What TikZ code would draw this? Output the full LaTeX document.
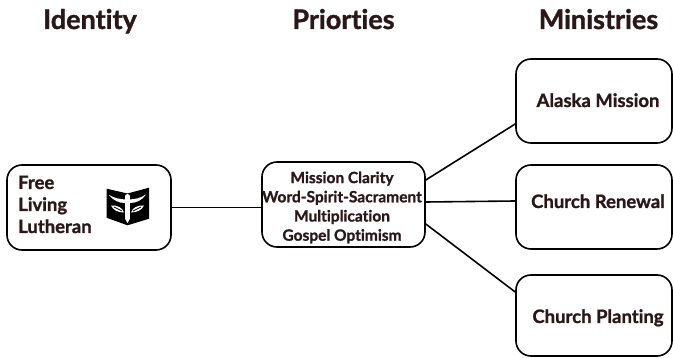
\documentclass[tikz,border=0pt]{standalone}
\usepackage{fontspec}
\setmainfont{Lato}[Ligatures=NoCommon,BoldFeatures={FakeBold=1.2}]
\definecolor{ink}{HTML}{2A1717}
\begin{document}
\begin{tikzpicture}[x=1pt,y=-1pt,
  box/.style={draw=black,line width=1.6pt,rounded corners=15pt,inner sep=0pt},
  head/.style={font=\fontsize{27}{32}\selectfont\bfseries,text=ink,inner sep=0pt,anchor=base},
  lbl/.style={font=\fontsize{18.5}{22}\selectfont\bfseries,text=ink,inner sep=0pt},
  pri/.style={font=\fontsize{15.5}{19.2}\selectfont\bfseries,text=ink,inner sep=0pt,align=center},
  link/.style={draw=black,line width=1.6pt}]
\useasboundingbox (0,0) rectangle (673,358);
% headings
\node[head] (hid) at (90,29) {Identity};
\node[head] (hpr) at (343.5,29) {Priorties};
\node[head] (hmi) at (598.5,29) {Ministries};
% boxes
\node[box,minimum width=164pt,minimum height=85pt] (idbox) at (89,207.5) {};
\node[box,minimum width=163pt,minimum height=85pt] (pribox) at (343.5,204.5) {};
\node[box,minimum width=156pt,minimum height=84pt] (alaska) at (594,101) {};
\node[box,minimum width=156pt,minimum height=84pt] (renewal) at (594,207) {};
\node[box,minimum width=156pt,minimum height=81pt] (planting) at (594,315.5) {};
% texts
\node[lbl,anchor=base west,align=left] (idtext) at (18,233) {Free\\Living\\Lutheran};
\node[pri,anchor=base] (pritext) at (342,240.7) {Mission Clarity\\Word-Spirit-Sacrament\\Multiplication\\Gospel Optimism};
\node[lbl,anchor=base] (alaskat) at (598,107) {Alaska Mission};
\node[lbl,anchor=base] (renewalt) at (598,208) {Church Renewal};
\node[lbl,anchor=base] (plantingt) at (598,323) {Church Planting};
% icon
\fill[black] (106.5,188.7) -- (127.5,193.5) -- (149,187.7) -- (149,218.7) -- (127.5,225.3) -- (106.5,217.7) -- cycle;
% upper wings
\fill[white] (109,195) .. controls (115,198.5) and (120,199) .. (125,199.5) -- (125,203) .. controls (119,203) and (113,200.5) .. (109,195) -- cycle;
\fill[white] (146,194.5) .. controls (140,198.5) and (135,199) .. (130,199.5) -- (130,203) .. controls (136,203) and (142,200.5) .. (146,194.5) -- cycle;
% head and body
\fill[white] (125,196) .. controls (125.5,193.5) and (129.5,193.5) .. (130,196) -- (129.8,219) -- (127.5,223) -- (125.2,219) -- cycle;
% lower wings
\fill[white] (111,205.5) .. controls (117,205) and (122.5,207.5) .. (124,212.5) .. controls (118,212.5) and (113,210) .. (111,205.5) -- cycle;
\fill[white] (144,205.5) .. controls (138,205) and (132.5,207.5) .. (131,212.5) .. controls (137,212.5) and (142,210) .. (144,205.5) -- cycle;
\draw[black,line width=0.7pt] (114,207) -- (122,211);
\draw[black,line width=0.7pt] (141,207) -- (133,211);
% connectors
\draw[link] (idbox.east) -- (idbox.east -| pribox.west);
\draw[link] ([yshift=24.5pt]pribox.east) -- ([yshift=-23pt]alaska.west);
\draw[link] ([yshift=2.5pt]pribox.east) -- ([yshift=6pt]renewal.west);
\draw[link] ([yshift=-19.5pt]pribox.east) -- ([yshift=23.5pt]planting.west);
\end{tikzpicture}
\end{document}
